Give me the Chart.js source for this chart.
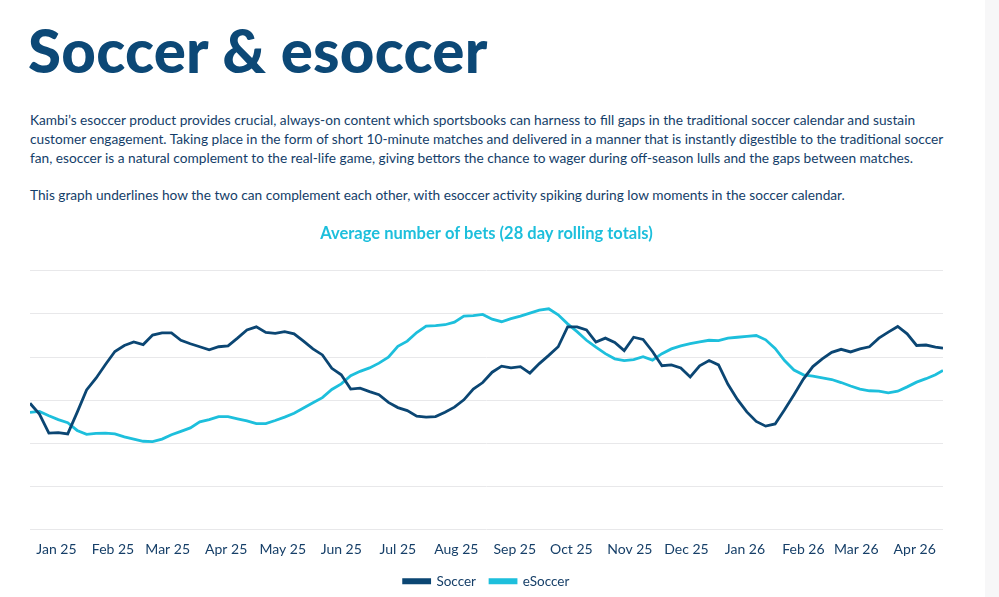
<!DOCTYPE html>
<html>
<head>
<meta charset="utf-8">
<script src="https://cdn.jsdelivr.net/npm/chart.js@4.4.1/dist/chart.umd.min.js"></script>
<style>
  html, body { margin: 0; padding: 0; background: #fff; overflow: hidden; }
  body { width: 999px; height: 597px; position: relative; font-family: Lato, "Noto Sans", sans-serif; }
  .side { position: absolute; left: 985px; top: 0; width: 14px; height: 597px; background: #f7f7f8; z-index: 2; }
  h1 { position: absolute; left: 28px; top: 14px; margin: 0; font-size: 60px; font-weight: 900; color: #0c4876; letter-spacing: 0.25px; white-space: nowrap; }
  .intro { position: absolute; left: 30px; top: 110px; margin: 0; font-size: 13.7px; line-height: 19px; color: #143e69; white-space: nowrap; }
  .intro p { margin: 0 0 18px 0; }
  .wrap { position: absolute; left: 0; top: 215px; width: 985px; height: 383px; }
</style>
</head>
<body>
<div class="side"></div>
<h1>Soccer &amp; esoccer</h1>
<div class="intro">
  <p>Kambi’s esoccer product provides crucial, always-on content which sportsbooks can harness to fill gaps in the traditional soccer calendar and sustain<br>customer engagement. Taking place in the form of short 10-minute matches and delivered in a manner that is instantly digestible to the traditional soccer<br>fan, esoccer is a natural complement to the real-life game, giving bettors the chance to wager during off-season lulls and the gaps between matches.</p>
  <p>This graph underlines how the two can complement each other, with esoccer activity spiking during low moments in the soccer calendar.</p>
</div>
<div class="wrap"><canvas id="chart"></canvas></div>
<script>
// days since 1 Jan 2025, one sample every 5 days, last sample on day 484
var stepDays = 5;
var lastDay = 484;

var monthLabels = ["Jan 25", "Feb 25", "Mar 25", "Apr 25", "May 25", "Jun 25", "Jul 25", "Aug 25",
                   "Sep 25", "Oct 25", "Nov 25", "Dec 25", "Jan 26", "Feb 26", "Mar 26", "Apr 26"];
var monthTickDays = [14, 44, 73, 104, 134, 165, 195, 226, 257, 287, 318, 348, 379, 410, 438, 469];

var soccer = [29.3, 26.8, 22.4, 22.5, 22.2, 27.2, 32.4, 35.1, 38.3, 41.3,
              42.7, 43.5, 42.9, 45.1, 45.6, 45.6, 43.9, 43.1, 42.4, 41.7,
              42.4, 42.6, 44.4, 46.3, 47.0, 45.7, 45.5, 45.9, 45.4, 43.7,
              41.9, 40.5, 37.4, 35.9, 32.6, 32.8, 32.0, 31.3, 29.5, 28.3,
              27.6, 26.3, 26.1, 26.2, 27.2, 28.4, 30.1, 32.6, 34.1, 36.5,
              37.9, 37.5, 37.8, 36.3, 38.5, 40.4, 42.4, 47.0, 47.0, 46.3,
              43.5, 44.4, 43.4, 41.5, 44.6, 44.1, 41.3, 38.0, 38.2, 37.5,
              35.4, 38.0, 39.2, 38.2, 33.7, 30.2, 27.3, 25.1, 24.0, 24.5,
              27.8, 31.3, 34.9, 37.8, 39.6, 41.1, 41.8, 41.2, 41.9, 42.4,
              44.4, 45.8, 47.1, 45.4, 42.7, 42.8, 42.3, 42.1];

var esoccer = [27.2, 27.4, 26.4, 25.5, 24.8, 23.0, 22.1, 22.3, 22.4, 22.2,
               21.5, 21.0, 20.5, 20.4, 21.0, 22.0, 22.8, 23.6, 25.0, 25.5,
               26.2, 26.2, 25.7, 25.2, 24.6, 24.6, 25.3, 26.1, 27.0, 28.2,
               29.4, 30.6, 32.5, 33.8, 35.7, 36.7, 37.5, 38.6, 40.0, 42.5,
               43.7, 45.7, 47.2, 47.3, 47.5, 48.1, 49.5, 49.6, 49.9, 48.8,
               48.2, 48.9, 49.5, 50.2, 50.9, 51.2, 49.8, 47.7, 45.9, 43.9,
               42.3, 40.8, 39.6, 39.2, 39.4, 40.1, 39.3, 40.8, 41.9, 42.6,
               43.1, 43.5, 43.9, 43.8, 44.4, 44.6, 44.8, 45.0, 44.0, 42.0,
               39.2, 37.0, 35.9, 35.6, 35.2, 34.8, 34.1, 33.3, 32.6, 32.2,
               32.1, 31.7, 32.1, 33.1, 34.2, 35.0, 35.9, 36.9];

function toPoints(values) {
    return values.map(function (v, i) {
        return { x: Math.min(i * stepDays, lastDay), y: v };
    });
}

var navy = '#0b4673';
var cyan = '#1dbfdc';
var textColor = '#163f68';

var ctx = document.getElementById("chart").getContext('2d');
var myLineChart = new Chart(ctx, {
    type: 'line',
    data: {
        datasets: [{
            label: "Soccer",
            data: toPoints(soccer),
            borderColor: navy,
            backgroundColor: navy,
            borderWidth: 2.8,
            pointRadius: 0,
            tension: 0
        },
        {
            label: "eSoccer",
            data: toPoints(esoccer),
            borderColor: cyan,
            backgroundColor: cyan,
            borderWidth: 2.8,
            pointRadius: 0,
            tension: 0
        }]
    },
    options: {
        responsive: true,
        maintainAspectRatio: false,
        animation: false,
        layout: { padding: { left: 30, right: 42, bottom: 0 } },
        scales: {
            x: {
                type: 'linear',
                min: 0,
                max: lastDay,
                grid: { display: false },
                border: { display: false },
                afterBuildTicks: function (scale) {
                    scale.ticks = monthTickDays.map(function (d) { return { value: d }; });
                },
                ticks: {
                    autoSkip: false,
                    maxRotation: 0,
                    padding: 3,
                    color: textColor,
                    font: { family: 'Lato', size: 14 },
                    callback: function (value, index) { return monthLabels[index]; }
                }
            },
            y: {
                min: 0,
                max: 60,
                ticks: { display: false, stepSize: 10 },
                grid: { color: '#e8e8ea', drawTicks: false },
                border: { display: false },
                afterFit: function (scale) { scale.width = 0; }
            }
        },
        plugins: {
            title: {
                display: true,
                text: 'Average number of bets (28 day rolling totals)',
                color: cyan,
                font: { family: 'Lato', size: 16.5, weight: 'bold' },
                padding: { top: 9, bottom: 27 }
            },
            legend: {
                position: 'bottom',
                labels: {
                    boxWidth: 26,
                    boxHeight: 3,
                    padding: 14,
                    color: textColor,
                    font: { family: 'Lato', size: 13.5 }
                }
            },
            tooltip: { enabled: false }
        }
    }
});
</script>
</body>
</html>
